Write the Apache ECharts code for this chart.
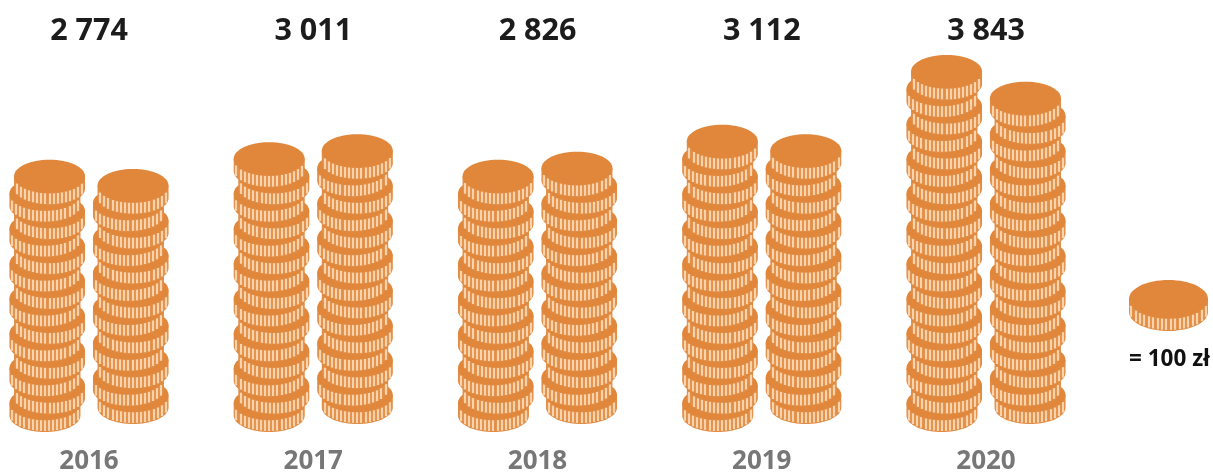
<!DOCTYPE html>
<html><head><meta charset="utf-8">
<style>html,body{margin:0;padding:0;background:#fff}#c{width:1213px;height:472px}</style>
<script src="https://cdn.jsdelivr.net/npm/echarts@6/dist/echarts.min.js"></script>
</head><body><div id="c"></div>
<script>
const years = ['2016','2017','2018','2019','2020'];
const totalLabels = ['2 774','3 011','2 826','3 112','3 843'];
const leftStackCoins = [14,15,14,16,20];
const rightStackCoins = [13,15,14,15,18];
const leftBottomLean = [-1,-1,-1,-1,-1];
const rightBottomLean = [1,1,1,1,1];
const legendLabel = '= 100 zł';

const DISC='#E0873B', EDGE='#E18D45', RIB='#F9D3AC', FONT='"Open Sans", sans-serif';

function coinShapes(cx, top, rx, ry, depth, ribStep){
  const cy = top + ry, out = [];
  const segs = Math.max(1, Math.round(rx*2/ribStep));
  const pts=[[cx-rx,cy]];
  for(let a=0;a<=36;a++){
    const t=Math.PI*a/36;
    pts.push([cx-rx*Math.cos(t), cy+depth+ry*Math.sin(t)]);
  }
  pts.push([cx+rx,cy]);
  out.push({type:'polygon', silent:true, shape:{points:pts}, style:{fill:EDGE}});
  for(let k=0;k<segs;k++){
    const x = Math.round(cx-rx+ribStep*(k+0.5)+ (rx*2-ribStep*segs)/2);
    const d = (x-cx)/rx;
    if(Math.abs(d)>0.95) continue;
    const a = cy + ry*Math.sqrt(1-d*d);
    out.push({type:'line', silent:true, shape:{x1:x,y1:a+0.8,x2:x,y2:a+depth-1},
      style:{stroke:RIB,lineWidth:2.2}});
  }
  out.push({type:'ellipse', silent:true, shape:{cx,cy,rx,ry}, style:{fill:DISC}});
  return out;
}

function stackRenderer(side, leans){
  const halfGap=41.75, lift= side>0 ? 8 : 0, rx=35.5, ry=16.5, depth=12.5, coinH=ry*2+depth, sway=2.3;
  return function(params, api){
    const cat=api.value(0), n=api.value(1);
    const children=[];
    for(let i=0;i<n;i++){
      const p=api.coord([cat,i]);
      const lean=leans[cat]*(i%2===0?1:-1);
      const bottom=p[1]-lift;
      children.push(...coinShapes(p[0]+side*halfGap+lean*sway, bottom-coinH, rx, ry, depth, 4.1));
    }
    return {type:'group',children};
  };
}

const chart=echarts.init(document.getElementById('c'),null,{renderer:'canvas'});
chart.setOption({
  animation:false,
  backgroundColor:'#fff',
  grid:{left:89,width:897,top:48.1,height:383.9,containLabel:false,outerBoundsMode:'none'},
  xAxis:[
    {type:'category',boundaryGap:false,data:years,position:'bottom',axisLine:{show:false},axisTick:{show:false},
     axisLabel:{interval:0,margin:17,color:'#777777',fontFamily:FONT,fontWeight:'bold',fontSize:26}},
    {type:'category',boundaryGap:false,data:totalLabels,position:'top',axisLine:{show:false},axisTick:{show:false},
     axisLabel:{interval:0,margin:1,color:'#1c1c1c',fontFamily:FONT,fontWeight:'bold',fontSize:30.5}}
  ],
  yAxis:{type:'value',min:0,max:22,show:false},
  series:[
    {type:'custom',clip:false,silent:true,encode:{x:0,y:1},renderItem:stackRenderer(-1,leftBottomLean),
     data:leftStackCoins.map((v,i)=>[i,v])},
    {type:'custom',clip:false,silent:true,encode:{x:0,y:1},renderItem:stackRenderer(1,rightBottomLean),
     data:rightStackCoins.map((v,i)=>[i,v])}
  ],
  graphic:[
    {type:'group',silent:true,children:coinShapes(1168.5,280,39.5,19,13,4.4)},
    {type:'text',silent:true,x:1129,y:360,style:{text:legendLabel,fill:'#111',font:'bold 22.5px "Open Sans", sans-serif',verticalAlign:'middle'}}
  ]
});
</script></body></html>
